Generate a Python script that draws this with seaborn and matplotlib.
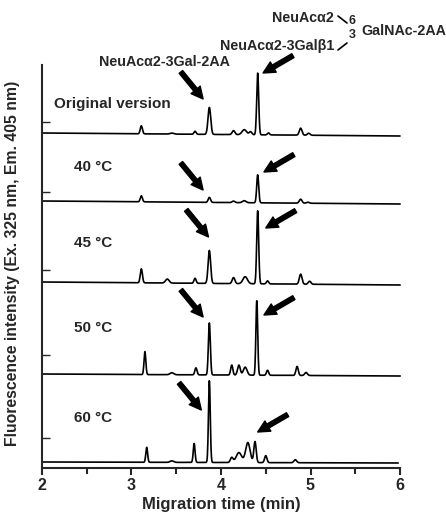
import numpy as np
import pandas as pd
import matplotlib
matplotlib.use("Agg")
import matplotlib.pyplot as plt
import seaborn as sns

# Panel labels and the baseline level of each trace (in intensity units)
labels = ["Original version", "40 \u00b0C", "45 \u00b0C", "50 \u00b0C", "60 \u00b0C"]
baselines = [335, 267, 186, 94, 6]
drift = [-3, -3, -3, -2, -1]
trace_end = [6.03, 6.05, 6.1, 6.04, 5.98]
# small inner ticks on the left axis
left_ticks = [346, 276, 198, 113, 30]

# Peaks: migration time, height, width
peak_pos = [
    [3.11, 3.45, 3.71, 3.87, 4.14, 4.26, 4.33, 4.41, 4.53, 4.89, 4.98],
    [3.11, 3.87, 4.14, 4.26, 4.41, 4.89, 4.97],
    [3.11, 3.40, 3.71, 3.87, 4.14, 4.27, 4.41, 4.52, 4.89, 4.99],
    [3.15, 3.45, 3.72, 3.87, 4.12, 4.20, 4.27, 4.40, 4.52, 4.85, 4.95],
    [3.17, 3.45, 3.70, 3.87, 4.12, 4.20, 4.30, 4.38, 4.50, 4.83],
]
peak_h = [
    [8, 1, 3, 27, 4, 5, 3, 62, 2, 7, 2],
    [6, 5, 1.5, 2, 28, 4, 1],
    [14, 4, 5, 33, 6, 7, 73, 3, 10, 3],
    [23, 2, 7, 52, 10, 10, 8, 75, 5, 9, 3],
    [15, 1.5, 19, 82, 5, 10, 20, 21, 7, 3],
]
peak_w = [
    [0.012, 0.02, 0.012, 0.015, 0.015, 0.025, 0.015, 0.011, 0.012, 0.015, 0.015],
    [0.012, 0.013, 0.015, 0.02, 0.011, 0.015, 0.015],
    [0.012, 0.02, 0.012, 0.014, 0.015, 0.025, 0.011, 0.012, 0.015, 0.015],
    [0.010, 0.02, 0.012, 0.011, 0.012, 0.015, 0.02, 0.010, 0.012, 0.013, 0.015],
    [0.010, 0.02, 0.010, 0.010, 0.015, 0.03, 0.025, 0.013, 0.013, 0.015],
]

# Arrow tips (time, height above baseline) for the two labelled peaks
arrow1_x = [3.80, 3.80, 3.86, 3.80, 3.78]
arrow1_y = [34, 11, 45, 57, 52]
arrow2_x = [4.47, 4.48, 4.50, 4.48, 4.41]
arrow2_y = [60, 29, 54, 59, 30]

sns.set_style("ticks")
plt.rcParams["font.family"] = ["Liberation Sans", "DejaVu Sans"]
plt.rcParams["font.weight"] = "bold"

W, H = 446, 514
fig = plt.figure(figsize=(W / 100, H / 100), dpi=100)
ax = fig.add_axes([42 / W, 46 / H, 358 / W, 403 / H])

rows = []
for i in range(len(labels)):
    t = np.linspace(2.0, trace_end[i], 1500)
    y = baselines[i] + drift[i] * (t - 2) / 4
    for p, h, w in zip(peak_pos[i], peak_h[i], peak_w[i]):
        y = y + h * np.exp(-0.5 * ((t - p) / w) ** 2)
    rows.append(pd.DataFrame({"time": t, "signal": y, "trace": labels[i]}))
df = pd.concat(rows)

sns.lineplot(data=df, x="time", y="signal", units="trace", estimator=None,
             color="black", lw=1.2, ax=ax, legend=False, sort=False)
for line in ax.lines:
    line.set_clip_on(False)

arrow = dict(arrowstyle="simple,head_length=0.85,head_width=0.85,tail_width=0.32",
             mutation_scale=10, color="black", shrinkA=0, shrinkB=0)
for i in range(len(labels)):
    b = baselines[i]
    ax.annotate("", xy=(arrow1_x[i], b + arrow1_y[i]), xytext=(-16, 19.5),
                textcoords="offset points", arrowprops=arrow)
    ax.annotate("", xy=(arrow2_x[i], b + arrow2_y[i]), xytext=(21.5, 12.5),
                textcoords="offset points", arrowprops=arrow)

# panel labels
lab_x = [2.13, 2.36, 2.36, 2.36, 2.36]
lab_y = [364, 301, 225, 140, 50]
for i in range(len(labels)):
    ax.text(lab_x[i], lab_y[i], labels[i], fontsize=11, fontweight="bold",
            va="center", ha="left")

ax.set_xlim(2, 6)
ax.set_ylim(0, 403)
ax.set_yticks(left_ticks)
ax.set_yticklabels([])
ax.tick_params(axis="y", direction="in", length=6, width=1.0)
ax.set_xticks([2, 3, 4, 5, 6])
ax.set_xticks([2.5, 3.5, 4.5, 5.5], minor=True)
ax.tick_params(axis="x", which="major", length=5, width=1.5, labelsize=11.5, pad=2)
ax.tick_params(axis="x", which="minor", length=4, width=1.5)
for lbl in ax.get_xticklabels():
    lbl.set_fontweight("bold")
sns.despine(ax=ax)
ax.spines["left"].set_linewidth(1.5)
ax.spines["bottom"].set_linewidth(1.5)
ax.set_xlabel("Migration time (min)", fontsize=12, fontweight="bold", labelpad=3)
ax.set_ylabel("Fluorescence intensity (Ex. 325 nm, Em. 405 nm)", fontsize=11.3,
              fontweight="bold")
ax.yaxis.set_label_coords(-0.062, 0.508)

# structure annotations at the top
def fpx(x, y):
    return x / W, 1 - y / H

fs = 10.3
fig.text(*fpx(164, 62), "NeuAc\u03b12-3Gal-2AA", fontsize=fs, fontweight="bold",
         ha="center", va="center")
fig.text(*fpx(334, 18), "NeuAc\u03b12", fontsize=fs, fontweight="bold", ha="right", va="center")
fig.text(*fpx(334, 46), "NeuAc\u03b12-3Gal\u03b21", fontsize=fs, fontweight="bold",
         ha="right", va="center")
fig.text(*fpx(352, 21), "6", fontsize=9, fontweight="bold", ha="center", va="center")
fig.text(*fpx(352, 35), "3", fontsize=9, fontweight="bold", ha="center", va="center")
fig.text(*fpx(361, 31), "GalNAc-2AA", fontsize=fs, fontweight="bold", ha="left", va="center")
fig.add_artist(plt.Line2D([338 / W, 347 / W], [1 - 16 / H, 1 - 23 / H], color="black", lw=1.2))
fig.add_artist(plt.Line2D([338 / W, 347 / W], [1 - 50 / H, 1 - 43 / H], color="black", lw=1.2))

fig.savefig("out.png", dpi=100)
